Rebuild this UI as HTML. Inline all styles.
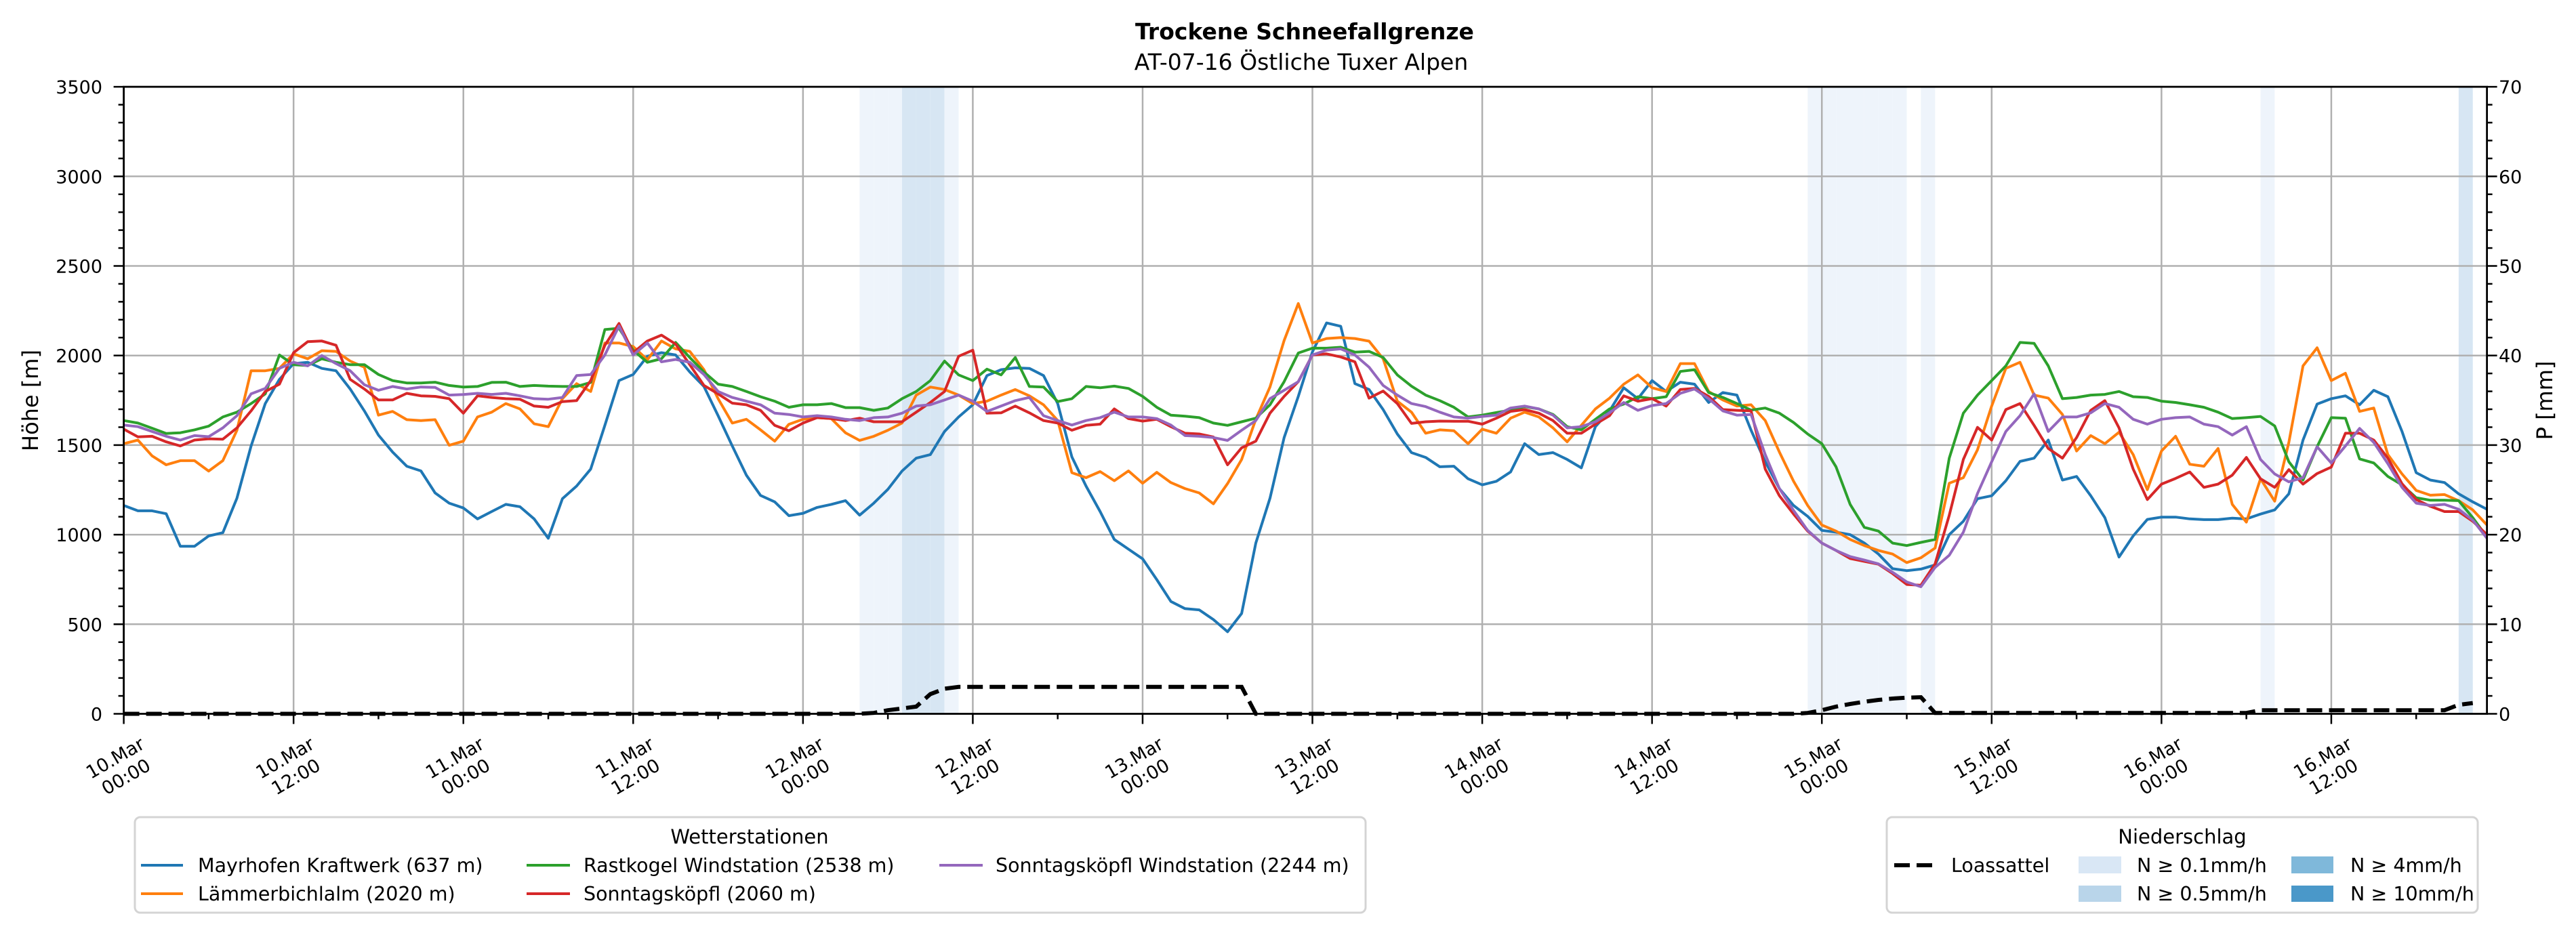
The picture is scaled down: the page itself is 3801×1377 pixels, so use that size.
<!DOCTYPE html>
<html><head><meta charset="utf-8">
<style>
html,body{margin:0;padding:0;background:#fff;}
svg{display:block;font-family:"DejaVu Sans","Liberation Sans",sans-serif;}
</style></head>
<body>
<svg id="chart" width="3801" height="1377" viewBox="0 0 3801 1377" xmlns="http://www.w3.org/2000/svg">
<rect width="3801" height="1377" fill="#fff"/>
<text x="1925" y="58" text-anchor="middle" font-size="33" font-weight="bold">Trockene Schneefallgrenze</text>
<text x="1920" y="103" text-anchor="middle" font-size="33">AT-07-16 Östliche Tuxer Alpen</text>
<g id="bands"></g>
<g id="grid"></g>
<g id="series"></g>
<g id="axes"></g>
<text transform="translate(56,591) rotate(-90)" text-anchor="middle" font-size="32">Höhe [m]</text>
<text transform="translate(3766,591) rotate(-90)" text-anchor="middle" font-size="32">P [mm]</text>

<g>
<rect x="199" y="1206" width="1816" height="141" rx="8" fill="#fff" stroke="#d4d4d4" stroke-width="3"/>
<text x="1106" y="1245" text-anchor="middle" font-size="29">Wetterstationen</text>
<line x1="208" y1="1277" x2="270" y2="1277" stroke="#1f77b4" stroke-width="4"/>
<text x="292" y="1287" font-size="28.5">Mayrhofen Kraftwerk (637 m)</text>
<line x1="208" y1="1319" x2="270" y2="1319" stroke="#ff7f0e" stroke-width="4"/>
<text x="292" y="1329" font-size="28.5">Lämmerbichlalm (2020 m)</text>
<line x1="777" y1="1277" x2="841" y2="1277" stroke="#2ca02c" stroke-width="4"/>
<text x="861" y="1287" font-size="28.5">Rastkogel Windstation (2538 m)</text>
<line x1="777" y1="1319" x2="841" y2="1319" stroke="#d62728" stroke-width="4"/>
<text x="861" y="1329" font-size="28.5">Sonntagsköpfl (2060 m)</text>
<line x1="1386" y1="1277" x2="1450" y2="1277" stroke="#9467bd" stroke-width="4"/>
<text x="1469" y="1287" font-size="28.5">Sonntagsköpfl Windstation (2244 m)</text>
</g>

<g>
<rect x="2784" y="1206" width="872" height="141" rx="8" fill="#fff" stroke="#d4d4d4" stroke-width="3"/>
<text x="3220" y="1245" text-anchor="middle" font-size="29">Niederschlag</text>
<line x1="2795" y1="1277" x2="2851" y2="1277" stroke="#000" stroke-width="6" stroke-dasharray="23 10"/>
<text x="2879" y="1287" font-size="28.5">Loassattel</text>
<rect x="3067" y="1264" width="63" height="25" fill="#d9e7f5"/>
<text x="3153" y="1287" font-size="28.5">N ≥ 0.1mm/h</text>
<rect x="3067" y="1307" width="63" height="24" fill="#b9d5ea"/>
<text x="3153" y="1329" font-size="28.5">N ≥ 0.5mm/h</text>
<rect x="3381" y="1264" width="62" height="25" fill="#7fb8da"/>
<text x="3468" y="1287" font-size="28.5">N ≥ 4mm/h</text>
<rect x="3381" y="1307" width="62" height="24" fill="#4a98c9"/>
<text x="3468" y="1329" font-size="28.5">N ≥ 10mm/h</text>
</g>
</svg>
<script>
const mayrhofen=[1163,1133,1133,1117,935,935,993,1011,1204,1495,1732,1867,1955,1962,1928,1915,1813,1691,1556,1461,1382,1356,1233,1176,1149,1088,1129,1169,1156,1088,980,1201,1271,1366,1610,1860,1894,1996,2016,2003,1908,1827,1664,
1495,1332,1219,1183,1106,1119,1152,1169,1190,1109,1176,1253,1355,1427,1447,1576,1657,1725,1888,1921,1931,1928,1888,1732,1434,1271,1129,973,919,865,749,627,587,580,526,458,560,953,1203,1542,1772,2020,
2182,2163,1843,1810,1698,1562,1458,1431,1379,1382,1312,1278,1298,1350,1508,1447,1458,1420,1373,1603,1691,1820,1759,1860,1799,1851,1840,1738,1793,1779,1583,1407,1257,1163,1102,1024,1014,1000,953,892,810,
799,808,831,1000,1075,1201,1217,1301,1409,1427,1528,1305,1325,1217,1095,875,993,1085,1098,1098,1088,1084,1084,1092,1088,1115,1138,1228,1528,1729,1759,1775,1725,1806,1770,1576,1346,1305,1291,1228,1183,1142];
const laemmerbichlalm=[1508,1528,1440,1390,1413,1413,1355,1413,1583,1915,1915,1928,2009,1982,2027,2023,1969,1935,1667,1688,1642,1637,1642,1499,1522,1657,1684,1732,1702,1619,1603,1759,1843,1799,2070,2070,2050,1976,2081,2037,2023,1921,1759,
1623,1644,1585,1522,1616,1644,1653,1648,1569,1526,1549,1583,1623,1779,1824,1810,1779,1732,1745,1779,1810,1775,1725,1637,1346,1318,1352,1301,1356,1287,1348,1291,1257,1233,1172,1285,1420,1644,1824,2084,2290,2070,
2095,2100,2095,2080,1982,1745,1684,1566,1585,1580,1508,1589,1566,1650,1684,1657,1596,1518,1610,1702,1762,1840,1892,1820,1799,1955,1955,1799,1752,1718,1725,1637,1461,1298,1163,1054,1020,973,939,912,892,
844,871,925,1287,1318,1474,1718,1928,1962,1779,1762,1671,1467,1553,1508,1572,1447,1251,1467,1549,1393,1382,1481,1169,1070,1312,1187,1515,1942,2043,1860,1901,1688,1707,1447,1339,1247,1220,1224,1190,1138,1054];
const rastkogel=[1637,1623,1594,1565,1569,1585,1606,1657,1684,1732,1786,2003,1949,1944,1982,1962,1949,1949,1894,1860,1847,1847,1851,1833,1824,1827,1850,1851,1827,1833,1829,1827,1827,1850,2145,2152,2030,1962,1982,2073,1989,1908,1840,
1827,1799,1770,1745,1711,1725,1725,1732,1709,1709,1694,1707,1759,1799,1860,1969,1892,1860,1924,1892,1989,1827,1824,1743,1759,1827,1820,1829,1816,1772,1711,1667,1661,1653,1623,1610,1630,1650,1725,1854,2014,2041,
2041,2046,2019,2023,1989,1892,1829,1779,1748,1711,1657,1667,1682,1695,1715,1702,1671,1603,1585,1644,1702,1729,1770,1759,1770,1911,1921,1793,1766,1732,1695,1707,1678,1626,1562,1508,1379,1169,1041,1020,953,
939,957,973,1427,1678,1779,1860,1942,2073,2068,1942,1759,1766,1779,1783,1799,1770,1766,1745,1738,1725,1711,1684,1648,1653,1660,1607,1407,1305,1491,1653,1650,1423,1400,1325,1278,1206,1192,1192,1190,1095,987];
const sonntagskoepfl=[1589,1546,1549,1518,1495,1528,1535,1533,1596,1691,1799,1840,2016,2077,2081,2057,1867,1813,1752,1752,1789,1775,1772,1759,1678,1775,1766,1759,1756,1718,1711,1743,1748,1860,2057,2179,2016,2081,2114,2064,1949,1833,1786,
1734,1725,1694,1610,1580,1623,1653,1648,1637,1650,1630,1630,1630,1684,1738,1799,1996,2030,1678,1680,1718,1680,1637,1623,1583,1610,1617,1702,1648,1634,1644,1603,1566,1562,1545,1390,1485,1522,1678,1772,1854,2003,
2009,1992,1965,1762,1802,1732,1621,1630,1634,1633,1633,1617,1650,1688,1698,1678,1637,1566,1566,1617,1664,1775,1745,1759,1718,1810,1816,1772,1698,1694,1691,1366,1217,1115,1020,953,912,867,851,835,783,
722,718,837,1108,1420,1599,1528,1698,1732,1610,1481,1427,1542,1694,1748,1596,1366,1196,1282,1314,1350,1264,1282,1332,1431,1312,1264,1363,1282,1341,1377,1566,1566,1528,1427,1284,1196,1158,1129,1129,1075,1000];
const sonntagskoepflWind=[1612,1603,1576,1549,1528,1553,1547,1596,1664,1786,1816,1928,1962,1942,2000,1955,1915,1837,1806,1827,1813,1824,1822,1779,1782,1789,1783,1789,1775,1759,1756,1766,1888,1894,2003,2165,2003,2070,1965,1978,1962,1894,1799,
1766,1745,1725,1678,1671,1657,1664,1657,1644,1637,1653,1657,1678,1718,1725,1752,1779,1745,1688,1718,1748,1766,1664,1637,1612,1637,1653,1684,1657,1657,1648,1612,1553,1549,1542,1526,1583,1637,1759,1806,1854,2003,
2030,2037,2003,1935,1833,1779,1732,1715,1684,1657,1650,1660,1667,1707,1718,1702,1667,1596,1603,1630,1680,1738,1694,1721,1732,1789,1813,1759,1691,1667,1671,1447,1257,1135,1024,953,912,878,858,837,790,
736,709,817,885,1014,1230,1407,1576,1664,1786,1576,1657,1657,1680,1732,1711,1644,1617,1644,1653,1657,1617,1603,1556,1603,1420,1339,1295,1318,1491,1400,1495,1593,1515,1396,1264,1176,1163,1169,1142,1081,980];
const loassattel=[0,0,0,0,0,0,0,0,0,0,0,0,0,0,0,0,0,0,0,0,0,0,0,0,0,0,0,0,0,0,0,0,0,0,0,0,0,0,0,0,0,0,0,0,0,0,0,0,0,0,0,0,0,
0.1,0.4,0.6,0.8,2.2,2.8,3,3,3,3,3,3,3,3,3,3,3,3,3,3,3,3,3,3,3,3,3,0,
0,0,0,0,0,0,0,0,0,0,0,0,0,0,0,0,0,0,0,0,0,0,0,0,0,0,0,0,0,0,0,0,0,0,0,0,0,0,
0.1,0.4,0.8,1.1,1.35,1.55,1.7,1.8,1.85,0.1,
0.1,0.1,0.1,0.1,0.1,0.1,0.1,0.1,0.1,0.1,0.1,0.1,0.1,0.1,0.1,0.1,0.1,0.1,0.1,0.1,0.1,0.1,
0.4,0.4,0.4,0.4,0.4,0.4,0.4,0.4,0.4,0.4,0.4,0.4,0.4,0.4,1.0,1.2];
const precipHour=[52,53,54,55,56,57,58,119,120,121,122,123,124,125,127,151,165];
const precipRate=[0.2,0.2,0.2,1,1,1,0.2,0.2,0.2,0.2,0.2,0.2,0.2,0.2,0.2,0.2,1];
const yTicks=[0,500,1000,1500,2000,2500,3000,3500];
const y2Ticks=[0,10,20,30,40,50,60,70];
const xTickLabels=["10.Mar|00:00","10.Mar|12:00","11.Mar|00:00","11.Mar|12:00","12.Mar|00:00","12.Mar|12:00","13.Mar|00:00","13.Mar|12:00","14.Mar|00:00","14.Mar|12:00","15.Mar|00:00","15.Mar|12:00","16.Mar|00:00","16.Mar|12:00"];

const NS='http://www.w3.org/2000/svg';
const L=182.6,R=3669.6,T=128.1,B=1053.5,HMAX=167,YMAX=3500,PMAX=70;
function X(h){return L+(R-L)*h/HMAX;}
function Y(v){return B-(B-T)*v/YMAX;}
function Y2(p){return B-(B-T)*p/PMAX;}
function mk(parent,tag,attrs){const e=document.createElementNS(NS,tag);for(const k in attrs)e.setAttribute(k,attrs[k]);parent.appendChild(e);return e;}

const bands=document.getElementById('bands');
precipHour.forEach((h,i)=>{
  const r=mk(bands,'rect',{x:X(h),y:T,width:X(h+1)-X(h),height:B-T,fill:precipRate[i]>=0.5?'#d7e6f3':'#eef4fb'});
  
  
});

const grid=document.getElementById('grid');
yTicks.forEach(v=>{if(v>0&&v<YMAX){const g=mk(grid,'line',{x1:L,x2:R,y1:Y(v),y2:Y(v),stroke:'#b0b0b0','stroke-width':2.5});
  
  }});
xTickLabels.forEach((s,i)=>{const h=i*12;if(h>0){const g=mk(grid,'line',{x1:X(h),x2:X(h),y1:T,y2:B,stroke:'#b0b0b0','stroke-width':2.5});
  
  }});

const series=document.getElementById('series');
const defs=[[mayrhofen,'#1f77b4','line-mayrhofen'],[laemmerbichlalm,'#ff7f0e','line-laemmerbichlalm'],[rastkogel,'#2ca02c','line-rastkogel'],[sonntagskoepfl,'#d62728','line-sonntagskoepfl'],[sonntagskoepflWind,'#9467bd','line-sonntagskoepfl-wind']];
defs.forEach(([d,c,n])=>{
  const p=mk(series,'polyline',{points:d.map((v,i)=>X(i).toFixed(1)+','+Y(v).toFixed(1)).join(' '),fill:'none',stroke:c,'stroke-width':4,'stroke-linejoin':'round'});
  
  
});
const lp=mk(series,'polyline',{points:loassattel.map((v,i)=>X(i).toFixed(1)+','+Y2(v).toFixed(1)).join(' '),fill:'none',stroke:'#000','stroke-width':6,'stroke-dasharray':'23 10'});



const axes=document.getElementById('axes');
mk(axes,'rect',{x:L,y:T,width:R-L,height:B-T,fill:'none',stroke:'#000','stroke-width':2.8});
for(let v=0;v<=YMAX;v+=100){const maj=v%500===0;mk(axes,'line',{x1:L,x2:L-(maj?15:8),y1:Y(v),y2:Y(v),stroke:'#000','stroke-width':2.5});}
yTicks.forEach(v=>{const t=mk(axes,'text',{x:151,y:Y(v)+10,'text-anchor':'end','font-size':27});t.textContent=v;
  
  });
for(let p=0;p<=PMAX;p+=2){const maj=p%10===0;mk(axes,'line',{x1:R,x2:R+(maj?15:8),y1:Y2(p),y2:Y2(p),stroke:'#000','stroke-width':2.5});}
y2Ticks.forEach(p=>{const t=mk(axes,'text',{x:3687,y:Y2(p)+10,'font-size':27});t.textContent=p;
  
  });
for(let h=0;h<=HMAX;h+=6){const maj=h%12===0;mk(axes,'line',{x1:X(h),x2:X(h),y1:B,y2:B+(maj?15:8),stroke:'#000','stroke-width':2.5});}
xTickLabels.forEach((s,i)=>{
  const parts=s.split('|');
  const g=mk(axes,'g',{transform:'translate('+(X(i*12)-5).toFixed(1)+',1132) rotate(-30)'});
  
  
  const t1=mk(g,'text',{x:0,y:-6,'text-anchor':'middle','font-size':27});t1.textContent=parts[0];
  const t2=mk(g,'text',{x:0,y:26,'text-anchor':'middle','font-size':27});t2.textContent=parts[1];
});
</script>
</body></html>
